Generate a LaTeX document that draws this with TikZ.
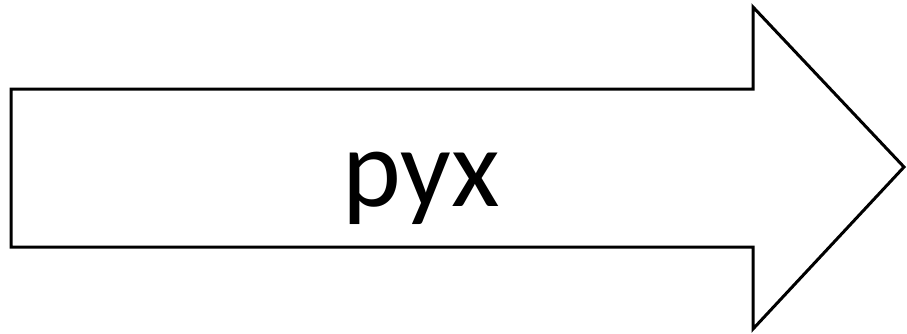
\documentclass[tikz,border=0pt]{standalone}
\usepackage{fontspec}
\setmainfont{Carlito}
\usepackage{tikz}

\begin{document}
\begin{tikzpicture}[x=1pt,y=-1pt]
      \tikzstyle{outline}=[draw,line width=3pt,line join=miter]
      \tikzstyle{word}=[inner sep=0pt,font=\fontsize{112}{134}\selectfont]
      \useasboundingbox (0,0) rectangle (907,333);
      \draw[outline] (11,89) -- (753,89) -- (753,7) -- (904,167)
        -- (753,329) -- (753,247) -- (11,247) -- cycle;
      \node[word,anchor=base] at (421,206) (pyx) {pyx};
    \end{tikzpicture}
\end{document}
